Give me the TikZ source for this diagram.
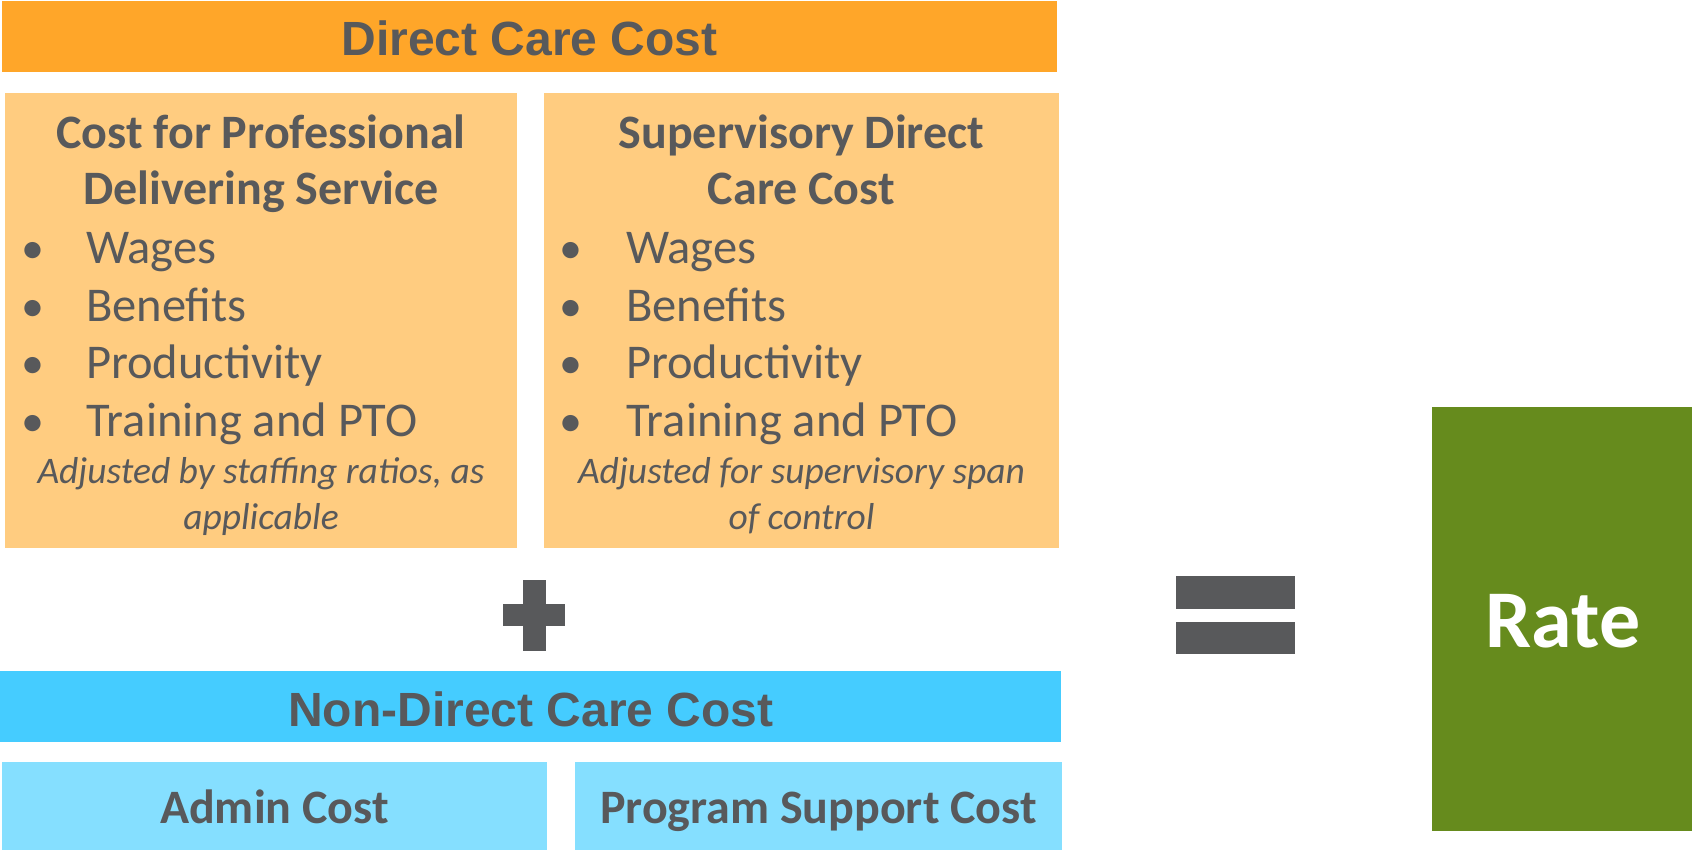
\documentclass[tikz,border=0pt]{standalone}
\usepackage{fontspec}
\setmainfont{Carlito}
\newfontfamily\hdrfont{Liberation Sans}
\definecolor{orangeA}{RGB}{255,166,41}
\definecolor{orangeB}{RGB}{255,204,128}
\definecolor{blueA}{RGB}{69,204,255}
\definecolor{blueB}{RGB}{133,223,255}
\definecolor{greenA}{RGB}{102,139,29}
\definecolor{grayT}{RGB}{88,89,91}
\tikzset{
  panel/.style={draw=none, inner sep=0pt, outer sep=0pt},
  hdr/.style={anchor=base, inner sep=0pt, text=grayT, font=\hdrfont\bfseries\fontsize{48}{56}\selectfont},
  sub/.style={anchor=base, inner sep=0pt, text=grayT, font=\bfseries\fontsize{48}{56}\selectfont},
  bul/.style={anchor=base, inner sep=0pt, text=grayT, font=\fontsize{46}{56}\selectfont},
  item/.style={anchor=base west, inner sep=0pt, text=grayT, font=\fontsize{48.5}{56}\selectfont},
  note/.style={anchor=base, inner sep=0pt, text=grayT, font=\itshape\fontsize{37.5}{42}\selectfont},
  sign/.style={fill=grayT, draw=none}
}
\begin{document}
\begin{tikzpicture}[x=1pt,y=-1pt]
\useasboundingbox (0,0) rectangle (1692,850);
% boxes
\node[panel, fill=orangeA, minimum width=1055pt, minimum height=71pt] (dcc) at (529.5,36.5) {};
\node[panel, fill=orangeB, minimum width=512pt, minimum height=455pt] (prof) at (261,320.5) {};
\node[panel, fill=orangeB, minimum width=515pt, minimum height=455pt] (sup) at (801.5,320.5) {};
\node[panel, fill=blueA, minimum width=1061pt, minimum height=71pt] (ndcc) at (530.5,706.5) {};
\node[panel, fill=blueB, minimum width=545pt, minimum height=88pt] (admin) at (274.5,806) {};
\node[panel, fill=blueB, minimum width=487pt, minimum height=88pt] (prog) at (818.5,806) {};
\node[panel, fill=greenA, minimum width=260pt, minimum height=424pt] (rate) at (1562,619) {};
% signs
\fill[sign] (523,580) rectangle (546,651);
\fill[sign] (503,604) rectangle (565,626);
\fill[sign] (1176,576) rectangle (1295,609);
\fill[sign] (1176,622) rectangle (1295,654);
% header texts
\node[hdr] (dcct) at (529.5,56) {Direct Care Cost};
\node[hdr] (ndcct) at (531,726) {Non-Direct Care Cost};
% left box
\node[sub] (p1) at (261,149) {Cost for Professional};
\node[sub] (p2) at (261,205) {Delivering Service};
\node[bul] (pb1) at (33,264) {•};
\node[bul] (pb2) at (33,321) {•};
\node[bul] (pb3) at (33,378) {•};
\node[bul] (pb4) at (33,436) {•};
\node[item] (pi1) at (86,264) {Wages};
\node[item] (pi2) at (86,321) {Benefits};
\node[item] (pi3) at (86,378) {Productivity};
\node[item] (pi4) at (86,436) {Training and PTO};
\node[note] (pn1) at (261,483) {Adjusted by staffing ratios, as};
\node[note] (pn2) at (261,529) {applicable};
% right box
\node[sub] (s1) at (801.5,149) {Supervisory Direct};
\node[sub] (s2) at (801.5,205) {Care Cost};
\node[bul] (sb1) at (571,264) {•};
\node[bul] (sb2) at (571,321) {•};
\node[bul] (sb3) at (571,378) {•};
\node[bul] (sb4) at (571,436) {•};
\node[item] (si1) at (626,264) {Wages};
\node[item] (si2) at (626,321) {Benefits};
\node[item] (si3) at (626,378) {Productivity};
\node[item] (si4) at (626,436) {Training and PTO};
\node[note] (sn1) at (801.5,483) {Adjusted for supervisory span};
\node[note] (sn2) at (801.5,529) {of control};
% bottom boxes
\node[sub] (admint) at (274.5,823) {Admin Cost};
\node[sub] (progt) at (818.5,823) {Program Support Cost};
% rate
\node[anchor=base, inner sep=0pt, text=white, font=\bfseries\fontsize{82}{90}\selectfont] (ratet) at (1563,647) {Rate};
\end{tikzpicture}
\end{document}
